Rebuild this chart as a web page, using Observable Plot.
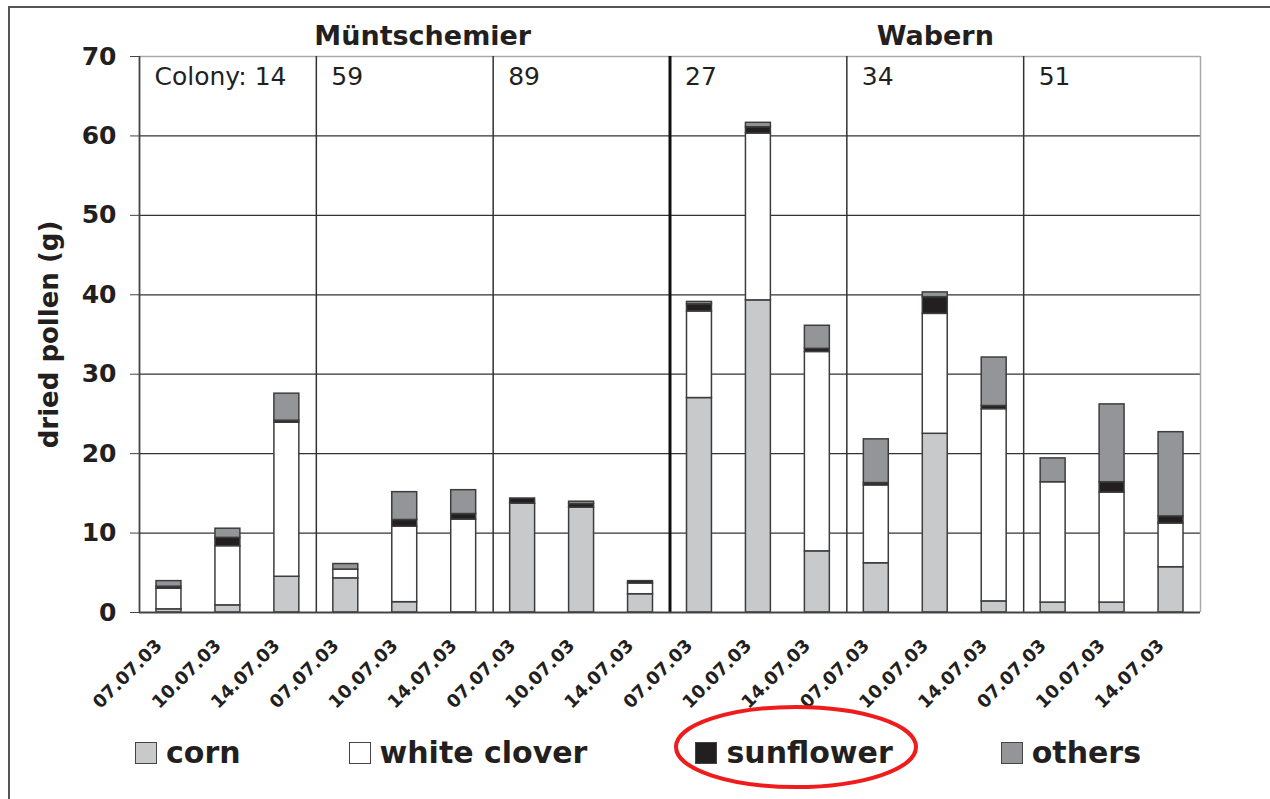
<!DOCTYPE html>
<html>
<head>
<meta charset="utf-8">
<script src="https://cdn.jsdelivr.net/npm/d3@7"></script>
<script src="https://cdn.jsdelivr.net/npm/@observablehq/plot@0.6"></script>
<style>
  html, body { margin: 0; padding: 0; background: #fff; }
  #wrap { position: relative; width: 1270px; height: 799px; overflow: hidden; font-family: "DejaVu Sans", sans-serif; color: #231f20; }
  #border { position: absolute; left: 8px; top: 6px; right: -10px; bottom: -10px; border-top: 2px solid #555; border-left: 2px solid #555; }
  #chart { position: absolute; left: 0; top: 0; }
  #legend { position: absolute; left: 135px; top: 735px; display: flex; align-items: center; font-weight: bold; font-size: 30px; }
  .item { display: flex; align-items: center; }
  .sw { width: 20px; height: 20px; border: 1.5px solid #444; margin-right: 9px; }
  #ring { position: absolute; left: 0; top: 0; pointer-events: none; }
</style>
</head>
<body>
<div id="wrap">
  <div id="border"></div>
  <div id="chart"></div>
  <div id="legend"></div>
  <svg id="ring" width="1270" height="799"><ellipse cx="796" cy="747" rx="120" ry="40" fill="none" stroke="#ee1c1c" stroke-width="4"></ellipse></svg>
</div>
<script>
// ---- data ----
const sites = ["Müntschemier", "Wabern"];
const colonies = ["14", "59", "89", "27", "34", "51"];
const dates = ["07.07.03", "10.07.03", "14.07.03"];
const types = ["corn", "white clover", "sunflower", "others"];
const colours = ["#c8c9cb", "#ffffff", "#231f20", "#939598"];
// one value per bar, colony by colony, date by date
const corn        = [0.4, 0.9, 4.5,  4.3, 1.3, 0,    13.7, 13.2, 2.3,  27.0, 39.3, 7.7,  6.2, 22.5, 1.4,  1.25, 1.25, 5.7];
const whiteClover = [2.6, 7.45, 19.4, 1.1, 9.5, 11.7, 0, 0, 1.35,      10.9, 21.0, 25.1, 9.8, 15.1, 24.2, 15.15, 13.85, 5.5];
const sunflower   = [0.25, 1.05, 0.25, 0, 0.85, 0.7,  0.65, 0.45, 0.3,  0.9, 0.8, 0.4,   0.3, 2.1, 0.4,   0, 1.3, 0.9];
const others      = [0.7, 1.15, 3.4,  0.7, 3.5, 3.0,  0, 0.3, 0,        0.3, 0.55, 2.9,  5.5, 0.6, 6.1,   3.0, 9.8, 10.6];
const yTicks = [0, 10, 20, 30, 40, 50, 60, 70];
const yLabel = "dried pollen (g)";
const colonyPrefix = "Colony: ";

// ---- build tables ----
const series = [corn, whiteClover, sunflower, others];
const rows = [];
const bars = [];
colonies.forEach((c, ci) => dates.forEach((d, di) => {
  const i = ci * dates.length + di;
  bars.push({i, colony: c, date: d});
  let acc = 0;
  types.forEach((t, ti) => {
    const v = series[ti][i];
    if (v > 0) rows.push({i, i2: i + 1, type: t, y1: acc, y2: acc + v});
    acc += v;
  });
}));
const n = bars.length;
const colonyStarts = colonies.map((c, ci) => ({x: ci * dates.length, label: (ci === 0 ? colonyPrefix : "") + c}));
const perSite = colonies.length / sites.length * dates.length;
const siteCentres = sites.map((s, si) => ({x: si * perSite + perSite / 2, label: s}));
const thinDividers = colonyStarts.map(d => d.x).filter(x => x > 0 && x % perSite !== 0);
const thickDividers = colonyStarts.map(d => d.x).filter(x => x > 0 && x % perSite === 0);
const tickPos = bars.map(b => b.i + 0.5);

const chart = Plot.plot({
  width: 1270,
  height: 720,
  marginLeft: 139,
  marginRight: 70,
  marginTop: 56,
  marginBottom: 108,
  style: {fontFamily: "DejaVu Sans, sans-serif", color: "#231f20", background: "transparent", overflow: "visible"},
  x: {domain: [0, n]},
  y: {domain: [0, 70]},
  color: {domain: types, range: colours},
  marks: [
    Plot.ruleY(yTicks.filter(t => t > 0 && t < 70), {stroke: "#333", strokeWidth: 1.3}),
    Plot.ruleY([70], {stroke: "#aaa", strokeWidth: 1.5}),
    Plot.ruleX([n], {y1: 0, y2: 70, stroke: "#aaa", strokeWidth: 1.5}),
    Plot.ruleX(thinDividers, {y1: 0, y2: 70, stroke: "#333", strokeWidth: 1.5}),
    Plot.ruleX(thickDividers, {y1: 0, y2: 70, stroke: "#111", strokeWidth: 3}),
    Plot.rect(rows, {x1: "i", x2: "i2", y1: "y1", y2: "y2", fill: "type", stroke: "#3d3d3d", strokeWidth: 1.5, insetLeft: 17, insetRight: 17}),
    Plot.ruleX([0], {y1: 0, y2: 70, stroke: "#444", strokeWidth: 1.8}),
    Plot.ruleY([0], {stroke: "#444", strokeWidth: 1.8}),
    Plot.axisY(yTicks, {tickSize: 9, tickPadding: 14, fontSize: 25, fontWeight: "bold", stroke: "#444", label: null}),
    Plot.axisX(tickPos, {tickFormat: d => bars[Math.floor(d)].date, tickRotate: -45, tickSize: 0, tickPadding: 30, dx: -10, fontSize: 18, fontWeight: "bold", label: null}),
    Plot.text(colonyStarts, {x: "x", y: 70, text: "label", textAnchor: "start", lineAnchor: "top", dx: 15, dy: 11, fontSize: 25}),
    Plot.text(siteCentres.slice(0, 1), {x: "x", y: 70, text: "label", textAnchor: "middle", lineAnchor: "bottom", dy: -12, dx: 18, fontSize: 27, fontWeight: "bold"}),
    Plot.text(siteCentres.slice(1), {x: "x", y: 70, text: "label", textAnchor: "middle", lineAnchor: "bottom", dy: -12, fontSize: 27, fontWeight: "bold"}),
    Plot.text([yLabel], {frameAnchor: "left", rotate: -90, dx: -90, fontSize: 26, fontWeight: "bold", textAnchor: "middle", lineAnchor: "middle"})
  ]
});
document.getElementById("chart").appendChild(chart);

// ---- legend ----
const legend = document.getElementById("legend");
types.forEach((t, ti) => {
  const item = document.createElement("div");
  item.className = "item";
  if (ti < types.length - 1) item.style.marginRight = "108px";
  const sw = document.createElement("div");
  sw.className = "sw";
  sw.style.background = colours[ti];
  const lab = document.createElement("span");
  lab.textContent = t;
  item.appendChild(sw);
  item.appendChild(lab);
  legend.appendChild(item);
});
</script>
</body>
</html>
